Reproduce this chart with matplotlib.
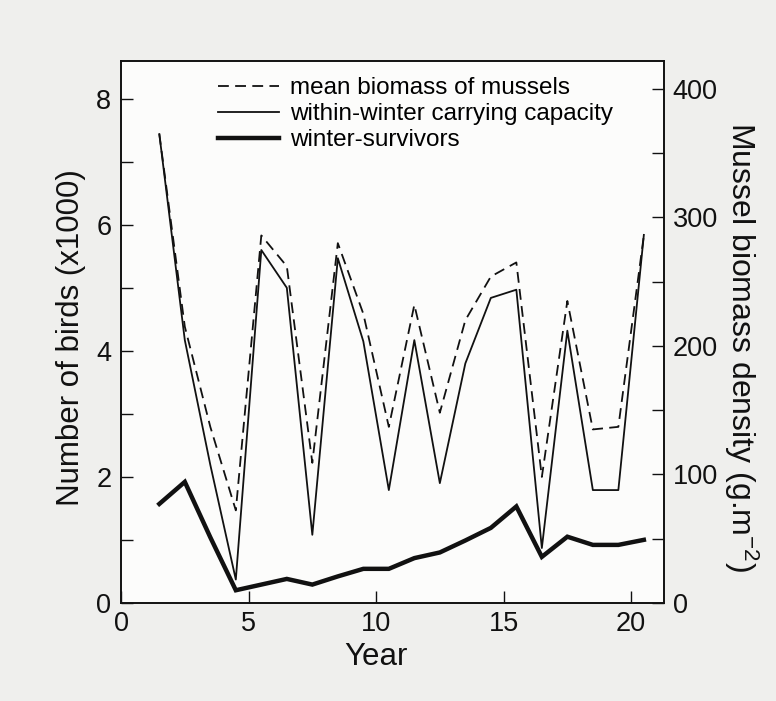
import matplotlib
matplotlib.use("Agg")
from matplotlib import pyplot as plt

plt.rcParams['font.family'] = ['Liberation Sans', 'DejaVu Sans']
plt.rcParams['mathtext.fontset'] = 'custom'
plt.rcParams['mathtext.rm'] = 'Liberation Sans'
plt.rcParams['mathtext.it'] = 'Liberation Sans:italic'

# yearly values (birds in thousands, biomass in g/m2)
years = [1.5, 2.5, 3.5, 4.5, 5.5, 6.5, 7.5, 8.5, 9.5, 10.5,
         11.5, 12.5, 13.5, 14.5, 15.5, 16.5, 17.5, 18.5, 19.5, 20.5]
biomass = [365, 215, 137, 72, 286, 262, 109, 280, 225, 137,
           232, 148, 220, 254, 265, 98, 235, 135, 137, 286]
capacity = [7.44, 4.17, 2.19, 0.37, 5.6, 5.0, 1.08, 5.47, 4.15, 1.79,
            4.17, 1.9, 3.8, 4.84, 4.97, 0.87, 4.32, 1.79, 1.79, 5.84]
survivors = [1.57, 1.92, 1.04, 0.2, 0.29, 0.38, 0.29, 0.42, 0.54, 0.54,
             0.71, 0.8, 0.99, 1.19, 1.53, 0.73, 1.05, 0.92, 0.92, 1.0]

fig = plt.figure(figsize=(7.76, 7.01), dpi=100, facecolor='#efefed')
ax = fig.add_axes([0.156, 0.14, 0.7, 0.773])
ax.set_facecolor('#fcfcfb')
ax2 = ax.twinx()

cap_line, = ax.plot(years, capacity, color='#111111', lw=1.3,
                    label='within-winter carrying capacity')
surv_line, = ax.plot(years, survivors, color='#111111', lw=3.2,
                     solid_joinstyle='miter',
                     label='winter-survivors')
bio_line, = ax2.plot(years, biomass, color='#111111', lw=1.3,
                     dashes=(6, 3.5), label='mean biomass of mussels')

ax.set_xlim(0, 21.3)
ax.set_ylim(0, 8.6)
ax2.set_ylim(0, 421.8)

ax.set_xticks([0, 5, 10, 15, 20])
ax.set_yticks([0, 2, 4, 6, 8])
ax.set_yticks(range(0, 9), minor=True)
ax2.set_yticks([0, 100, 200, 300, 400])
ax2.set_yticks(range(0, 401, 50), minor=True)

for a in (ax, ax2):
    a.tick_params(which='both', direction='in', length=8.5, width=1.0,
                  labelsize=19.5, color='#111111', labelcolor='#111111')
    for sp in a.spines.values():
        sp.set_linewidth(1.2)
        sp.set_color('#111111')
ax.tick_params(axis='y', pad=7)
ax.tick_params(axis='x', pad=6)
ax2.tick_params(axis='y', pad=6)

ax.set_xlabel('Year', fontsize=22.5, color='#111111')
ax.xaxis.set_label_coords(0.47, -0.072)
ax.set_ylabel('Number of birds (x1000)', fontsize=22.5, color='#111111',
              va='center')
ax.yaxis.set_label_coords(-0.093, 0.49)
ax2.set_ylabel('Mussel biomass density (g.m$^{-2}$)', fontsize=23,
               rotation=270, va='center', ha='center', color='#111111')
ax2.yaxis.set_label_coords(1.142, 0.472)

ax2.legend(handles=[bio_line, cap_line, surv_line], loc='upper left',
           bbox_to_anchor=(0.179, 0.97), frameon=False, fontsize=17.5,
           handlelength=2.5, handletextpad=0.45, labelspacing=0.16,
           borderpad=0, borderaxespad=0)

fig.savefig('out.png', dpi=100, facecolor=fig.get_facecolor())
